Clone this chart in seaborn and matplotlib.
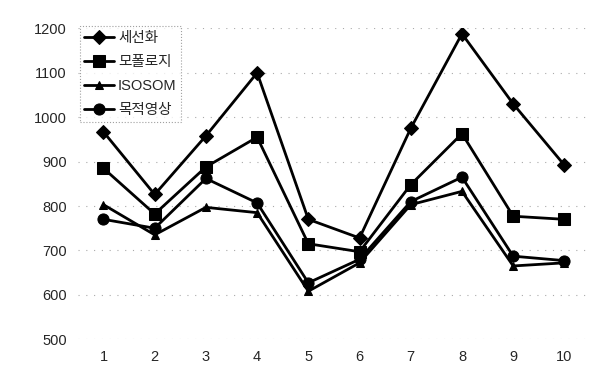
import pandas as pd
import matplotlib.pyplot as plt
import seaborn as sns

# values
x_labels = [1, 2, 3, 4, 5, 6, 7, 8, 9, 10]
series_names = ['세선화', '모폴로지', 'ISOSOM', '목적영상']
thinning = [967, 826, 958, 1100, 770, 728, 975, 1188, 1030, 892]
morphology = [885, 782, 888, 955, 715, 697, 848, 963, 777, 770]
isosom = [803, 735, 797, 785, 608, 672, 803, 833, 665, 672]
target = [770, 750, 862, 807, 627, 680, 810, 865, 687, 677]

df = pd.DataFrame({
    'x': x_labels * 4,
    'value': thinning + morphology + isosom + target,
    'method': [n for n in series_names for _ in x_labels],
})

sns.set_style('white')
plt.rcParams['font.family'] = ['Liberation Sans', 'Noto Sans CJK KR']

fig = plt.figure(figsize=(5.99, 3.79), dpi=100)
ax = fig.add_axes([0.13, 0.105, 0.855, 0.82])

markers = {'세선화': 'D', '모폴로지': 's', 'ISOSOM': '^', '목적영상': 'o'}
sizes = {'세선화': 7, '모폴로지': 8, 'ISOSOM': 6, '목적영상': 8}
for name in series_names:
    sub = df[df['method'] == name]
    sns.lineplot(data=sub, x='x', y='value', ax=ax, color='black', lw=2,
                 marker=markers[name], markersize=sizes[name], markeredgecolor='black',
                 label=name)

ax.set_xlim(0.5, 10.5)
ax.set_ylim(500, 1200)
ax.set_xticks(x_labels)
ax.set_yticks(range(500, 1201, 100))
ax.tick_params(axis='both', labelsize=10.5, length=0, pad=8)
ax.set_xlabel('')
ax.set_ylabel('')
ax.yaxis.grid(True, color='#aaaaaa', linestyle=(0, (1, 6)), linewidth=0.8)
for s in ax.spines.values():
    s.set_visible(False)

leg = ax.legend(loc='upper left', bbox_to_anchor=(-0.01, 1.03), frameon=True,
                fontsize=10.5, handlelength=2.0, handletextpad=0.3,
                labelspacing=0.7, borderpad=0.3, fancybox=False)
leg.get_frame().set_edgecolor('#888888')
leg.get_frame().set_linestyle(':')
leg.get_frame().set_linewidth(0.8)

fig.savefig('out.png', dpi=100)
